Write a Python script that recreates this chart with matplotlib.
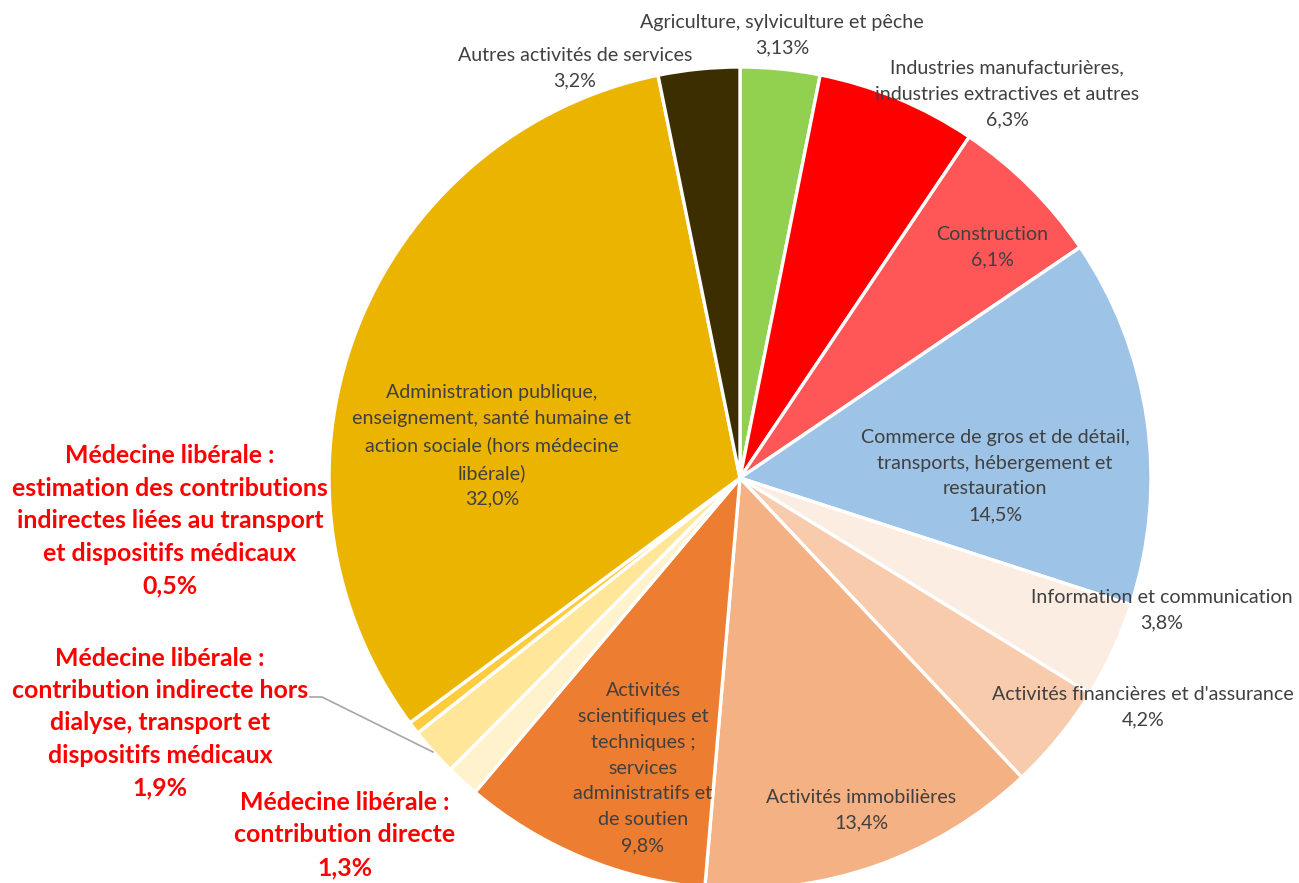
import matplotlib
matplotlib.use("Agg")
import matplotlib.pyplot as plt

# ---- data ----
categories = [
    "Agriculture, sylviculture et pêche",
    "Industries manufacturières,\nindustries extractives et autres",
    "Construction",
    "Commerce de gros et de détail,\ntransports, hébergement et\nrestauration",
    "Information et communication",
    "Activités financières et d'assurance",
    "Activités immobilières",
    "Activités\nscientifiques et\ntechniques ;\nservices\nadministratifs et\nde soutien",
    "Médecine libérale :\ncontribution directe",
    "Médecine libérale :\ncontribution indirecte hors\ndialyse, transport et\ndispositifs médicaux",
    "Médecine libérale :\nestimation des contributions\nindirectes liées au transport\net dispositifs médicaux",
    "Administration publique,\nenseignement, santé humaine et\naction sociale (hors médecine\nlibérale)",
    "Autres activités de services",
]
values = [3.13, 6.3, 6.1, 14.5, 3.8, 4.2, 13.4, 9.8, 1.3, 1.9, 0.5, 32.0, 3.2]
value_labels = ["3,13%", "6,3%", "6,1%", "14,5%", "3,8%", "4,2%", "13,4%", "9,8%",
                "1,3%", "1,9%", "0,5%", "32,0%", "3,2%"]
highlight = [False] * 8 + [True, True, True] + [False, False]

# ---- styles ----
colors = ["#92D050", "#FF0000", "#FF5757", "#9DC3E6", "#FCEDE3", "#F8CBAD", "#F4B183",
          "#ED7D31", "#FFF2CC", "#FFE699", "#FFCC3F", "#EBB400", "#3D2E00"]

W, H = 1299, 883
CX, CY, R = 740, 478, 411
# label centres in pixel coordinates (layout only)
label_pos = [(782, 35), (1007, 94), (992, 247), (995, 476), (1162, 610), (1143, 707),
             (861, 810), (643, 768), (345, 835), (160, 723), (170, 521), (492, 446), (575, 68)]

def px(x, y):
    return (x - CX) / R, (CY - y) / R

fig = plt.figure(figsize=(W / 100, H / 100), dpi=100)
ax = fig.add_axes([0, 0, 1, 1])

ax.pie(values, colors=colors, startangle=90, counterclock=False, radius=1,
       wedgeprops=dict(edgecolor="white", linewidth=2.4))

ax.set_xlim(-CX / R, (W - CX) / R)
ax.set_ylim(-(H - CY) / R, CY / R)
ax.set_aspect("equal")
ax.axis("off")

for cat, vl, hl, (lx, ly) in zip(categories, value_labels, highlight, label_pos):
    x, y = px(lx, ly)
    if hl:
        ax.text(x, y, cat + "\n" + vl, ha="center", va="center", color="#FF0000",
                fontsize=17.9, fontweight="bold", family="Lato", linespacing=1.5)
    else:
        ax.text(x, y, cat + "\n" + vl, ha="center", va="center", color="#404040",
                fontsize=14.1, family="Lato", linespacing=1.63)

# leader line for the 1,9% label
lx0, ly0 = px(310, 697)
lx1, ly1 = px(322, 697)
lx2, ly2 = px(433, 752)
ax.plot([lx0, lx1, lx2], [ly0, ly1, ly2], color="#A6A6A6", linewidth=1.2)

fig.savefig("out.png", dpi=100)
